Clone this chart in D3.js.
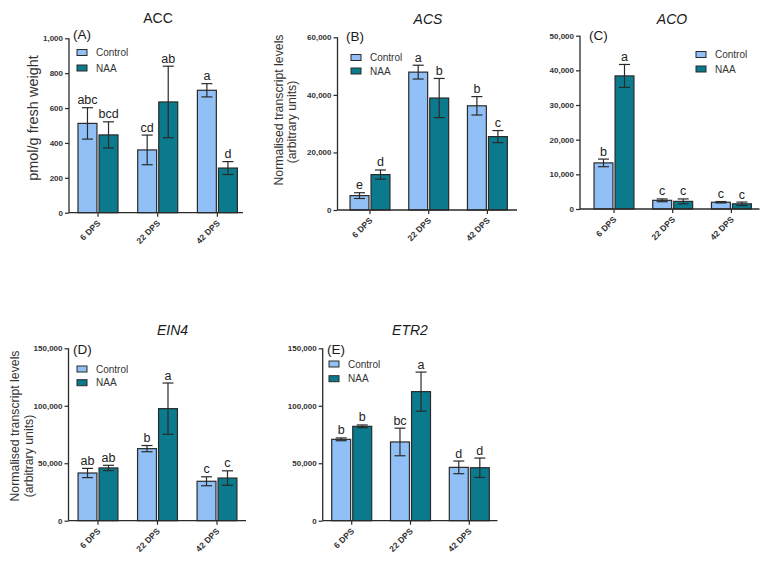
<!DOCTYPE html>
<html>
<head>
<meta charset="utf-8">
<script src="https://cdn.jsdelivr.net/npm/d3@7"></script>
<style>
  html, body { margin: 0; padding: 0; background: #fff; }
  svg { display: block; font-family: "Liberation Sans", Arial, sans-serif; }
</style>
</head>
<body>
<svg id="chart" width="780" height="571"></svg>
<script>
// ---------- data ----------
const categories = ["6 DPS", "22 DPS", "42 DPS"];
const seriesNames = ["Control", "NAA"];

const accControl = [512, 360, 702];
const accControlErr = [90, 85, 38];
const accNAA = [446, 635, 256];
const accNAAErr = [75, 205, 37];
const accLettersControl = ["abc", "cd", "a"];
const accLettersNAA = ["bcd", "ab", "d"];
const accTicks = [0, 200, 400, 600, 800, 1000];

const acsControl = [5000, 47900, 36200];
const acsControlErr = [1000, 2400, 3200];
const acsNAA = [12300, 38900, 25500];
const acsNAAErr = [1600, 6800, 2100];
const acsLettersControl = ["e", "a", "b"];
const acsLettersNAA = ["d", "b", "c"];
const acsTicks = [0, 20000, 40000, 60000];

const acoControl = [13300, 2500, 1950];
const acoControlErr = [1100, 400, 200];
const acoNAA = [38400, 2200, 1500];
const acoNAAErr = [3300, 700, 500];
const acoLettersControl = ["b", "c", "c"];
const acoLettersNAA = ["a", "c", "c"];
const acoTicks = [0, 10000, 20000, 30000, 40000, 50000];

const ein4Control = [41500, 62700, 34300];
const ein4ControlErr = [4000, 2700, 3900];
const ein4NAA = [45900, 97500, 37100];
const ein4NAAErr = [2300, 22300, 6300];
const ein4LettersControl = ["ab", "b", "c"];
const ein4LettersNAA = ["ab", "a", "c"];
const ein4Ticks = [0, 50000, 100000, 150000];

const etr2Control = [70800, 68500, 46400];
const etr2ControlErr = [1200, 12000, 5500];
const etr2NAA = [82100, 112300, 46100];
const etr2NAAErr = [1200, 17000, 8400];
const etr2LettersControl = ["b", "bc", "d"];
const etr2LettersNAA = ["b", "a", "d"];
const etr2Ticks = [0, 50000, 100000, 150000];

// ---------- style ----------
const colors = { Control: "#91c0f6", NAA: "#0b7a8d" };
const strokeDark = "#2a2a2a";
const fmt = d3.format(",");

const svg = d3.select("#chart");

function drawPanel(cfg) {
  const g = svg.append("g");
  const y = d3.scaleLinear().domain([0, cfg.yMax]).range([cfg.y0, cfg.yTop]);
  const x = d3.scaleBand().domain(categories)
    .range([cfg.c0 - cfg.step / 2, cfg.c0 + 2.5 * cfg.step])
    .paddingInner(cfg.pad).paddingOuter(cfg.pad / 2);
  const xs = d3.scaleBand().domain(seriesNames).range([0, x.bandwidth()]).paddingInner(0.1);

  const rows = [];
  categories.forEach((c, i) => {
    rows.push({ cat: c, s: "Control", v: cfg.control[i], e: cfg.controlErr[i], l: cfg.lettersControl[i] });
    rows.push({ cat: c, s: "NAA", v: cfg.naa[i], e: cfg.naaErr[i], l: cfg.lettersNAA[i] });
  });

  // bars
  g.selectAll("rect.bar").data(rows).enter().append("rect")
    .attr("x", d => x(d.cat) + xs(d.s))
    .attr("y", d => y(d.v))
    .attr("width", xs.bandwidth())
    .attr("height", d => y(0) - y(d.v))
    .attr("fill", d => colors[d.s])
    .attr("stroke", strokeDark)
    .attr("stroke-width", 1.2);

  // error bars
  const cap = 5.5;
  const eb = g.selectAll("g.err").data(rows).enter().append("g")
    .attr("transform", d => `translate(${x(d.cat) + xs(d.s) + xs.bandwidth() / 2},0)`);
  eb.append("line").attr("x1", 0).attr("x2", 0)
    .attr("y1", d => y(d.v - d.e)).attr("y2", d => y(d.v + d.e))
    .attr("stroke", strokeDark).attr("stroke-width", 1.2);
  eb.append("line").attr("x1", -cap).attr("x2", cap)
    .attr("y1", d => y(d.v + d.e)).attr("y2", d => y(d.v + d.e))
    .attr("stroke", strokeDark).attr("stroke-width", 1.2);
  eb.append("line").attr("x1", -cap).attr("x2", cap)
    .attr("y1", d => y(d.v - d.e)).attr("y2", d => y(d.v - d.e))
    .attr("stroke", strokeDark).attr("stroke-width", 1.2);
  eb.append("text")
    .attr("x", 0).attr("y", d => y(d.v + d.e) - 3.5)
    .attr("text-anchor", "middle")
    .attr("font-size", 12.5).attr("fill", "#222")
    .text(d => d.l);

  // y axis
  const yAxis = d3.axisLeft(y).tickValues(cfg.ticks).tickFormat(fmt).tickSize(4).tickPadding(2);
  const ya = g.append("g").attr("transform", `translate(${cfg.axisX},0)`).call(yAxis);
  ya.select(".domain").attr("stroke", strokeDark).attr("stroke-width", 1.3).attr("d", `M0,${cfg.y0}V${cfg.yTop}`);
  ya.selectAll(".tick line").attr("stroke", strokeDark).attr("stroke-width", 1.2);
  ya.selectAll(".tick text").attr("font-size", 8).attr("font-weight", "bold")
    .attr("fill", "#333").attr("font-family", "'Liberation Sans', Arial, sans-serif");

  // x axis
  const xAxis = d3.axisBottom(x).tickSize(4).tickSizeOuter(0).tickFormat(d => d);
  const xa = g.append("g").attr("transform", `translate(0,${cfg.y0})`).call(xAxis);
  xa.select(".domain").attr("stroke", strokeDark).attr("stroke-width", 1.3)
    .attr("d", `M${cfg.axisX},0H${cfg.axisEnd}`);
  xa.selectAll(".tick line").attr("stroke", strokeDark).attr("stroke-width", 1.2);
  xa.selectAll(".tick text")
    .attr("font-size", 8.5).attr("font-weight", "bold").attr("fill", "#333")
    .attr("font-family", "'Liberation Sans', Arial, sans-serif")
    .attr("text-anchor", "end")
    .attr("dy", null)
    .attr("y", 0)
    .attr("transform", "translate(3,11) rotate(-45)");

  // title
  g.append("text").attr("x", cfg.titleX).attr("y", cfg.titleY)
    .attr("text-anchor", "middle").attr("font-size", 14)
    .attr("font-style", cfg.italic ? "italic" : "normal").attr("fill", "#1a1a1a")
    .text(cfg.title);
  // panel letter
  g.append("text").attr("x", cfg.tagX).attr("y", cfg.tagY)
    .attr("font-size", 13.5).attr("fill", "#1a1a1a").text(cfg.tag);

  // legend
  seriesNames.forEach((s, i) => {
    const ly = cfg.legY + i * cfg.legGap;
    g.append("rect").attr("x", cfg.legX).attr("y", ly - 3).attr("width", 10).attr("height", 6)
      .attr("fill", colors[s]).attr("stroke", strokeDark).attr("stroke-width", 1);
    g.append("text").attr("x", cfg.legX + 19).attr("y", ly).attr("dy", "0.35em")
      .attr("font-size", 10).attr("fill", "#333").text(s);
  });

  // y label
  (cfg.ylab || []).forEach(l => {
    g.append("text")
      .attr("transform", `translate(${l.x},${l.y}) rotate(-90)`)
      .attr("text-anchor", "middle").attr("dy", "0.35em")
      .attr("font-size", l.size).attr("fill", "#333").text(l.text);
  });
}

drawPanel({
  control: accControl, controlErr: accControlErr, naa: accNAA, naaErr: accNAAErr,
  lettersControl: accLettersControl, lettersNAA: accLettersNAA, ticks: accTicks, yMax: 1000,
  axisX: 69, axisEnd: 243, y0: 212.7, yTop: 38.3, c0: 98, step: 59.7, pad: 0.33,
  title: "ACC", italic: false, titleX: 158, titleY: 23, tag: "(A)", tagX: 73, tagY: 39,
  legX: 77, legY: 52.5, legGap: 15.5,
  ylab: [{ text: "pmol/g fresh weight", x: 33, y: 118, size: 14.5 }]
});

drawPanel({
  control: acsControl, controlErr: acsControlErr, naa: acsNAA, naaErr: acsNAAErr,
  lettersControl: acsLettersControl, lettersNAA: acsLettersNAA, ticks: acsTicks, yMax: 60000,
  axisX: 337.5, axisEnd: 517, y0: 210, yTop: 37.3, c0: 370, step: 58.7, pad: 0.32,
  title: "ACS", italic: true, titleX: 428, titleY: 24, tag: "(B)", tagX: 346, tagY: 41,
  legX: 351, legY: 57.5, legGap: 13.5,
  ylab: [{ text: "Normalised transcript levels", x: 279, y: 110, size: 12.3 },
         { text: "(arbitrary units)", x: 291.5, y: 122, size: 12.3 }]
});

drawPanel({
  control: acoControl, controlErr: acoControlErr, naa: acoNAA, naaErr: acoNAAErr,
  lettersControl: acoLettersControl, lettersNAA: acoLettersNAA, ticks: acoTicks, yMax: 50000,
  axisX: 580, axisEnd: 759.5, y0: 209, yTop: 35.7, c0: 614, step: 58.7, pad: 0.32,
  title: "ACO", italic: true, titleX: 672, titleY: 24, tag: "(C)", tagX: 589, tagY: 40,
  legX: 696, legY: 54.5, legGap: 14.5,
  ylab: []
});

drawPanel({
  control: ein4Control, controlErr: ein4ControlErr, naa: ein4NAA, naaErr: ein4NAAErr,
  lettersControl: ein4LettersControl, lettersNAA: ein4LettersNAA, ticks: ein4Ticks, yMax: 150000,
  axisX: 68.5, axisEnd: 246, y0: 520.7, yTop: 348.3, c0: 98, step: 59.5, pad: 0.33,
  title: "EIN4", italic: true, titleX: 172.5, titleY: 335, tag: "(D)", tagX: 73, tagY: 354,
  legX: 77, legY: 369, legGap: 13.7,
  ylab: [{ text: "Normalised transcript levels", x: 15, y: 426, size: 12.3 },
         { text: "(arbitrary units)", x: 28.5, y: 456, size: 12.3 }]
});

drawPanel({
  control: etr2Control, controlErr: etr2ControlErr, naa: etr2NAA, naaErr: etr2NAAErr,
  lettersControl: etr2LettersControl, lettersNAA: etr2LettersNAA, ticks: etr2Ticks, yMax: 150000,
  axisX: 322.7, axisEnd: 497.5, y0: 520.7, yTop: 348.3, c0: 351.7, step: 58.8, pad: 0.32,
  title: "ETR2", italic: true, titleX: 410, titleY: 335, tag: "(E)", tagX: 327, tagY: 354,
  legX: 329, legY: 364, legGap: 14.7,
  ylab: []
});
</script>
</body>
</html>
